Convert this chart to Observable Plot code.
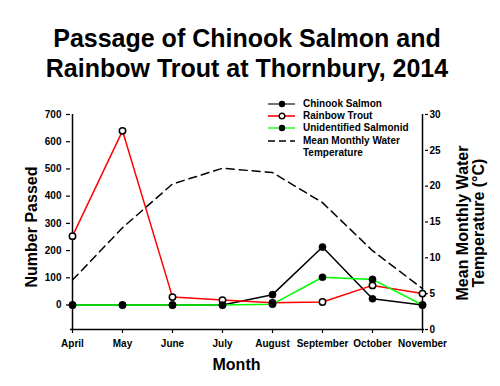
<!DOCTYPE html>
<html>
<head>
<meta charset="utf-8">
<script src="https://cdn.jsdelivr.net/npm/d3@7"></script>
<script src="https://cdn.jsdelivr.net/npm/@observablehq/plot@0.6"></script>
<style>
  body { margin: 0; background: #fff; }
  #wrap { position: relative; width: 500px; height: 386px; overflow: hidden; background: #fff; }
  #chart { position: absolute; left: 0; top: 0; }
  #title { position: absolute; left: 0; top: 23px; width: 494px; text-align: center;
           font: bold 25px/30px "Liberation Sans", Arial, sans-serif; color: #000; }
  .lg { position: absolute; height: 12px; font: bold 10px/12px "Liberation Sans", Arial, sans-serif; color: #000; white-space: nowrap; }
  .lg svg { position: absolute; left: 0; top: 0; }
  .lg span { position: absolute; left: 35px; top: 0; }
</style>
</head>
<body>
<div id="wrap">
  <div id="chart"></div>
  <div id="title">Passage of Chinook Salmon and<br>Rainbow Trout at Thornbury, 2014</div>
  <div id="legend"></div>
</div>
<script>
// ---- data ----
const months = ["April", "May", "June", "July", "August", "September", "October", "November"];
const chinook = [0, 0, 0, 0, 38, 213, 23, 0];
const rainbow = [253, 640, 29, 18, 8, 11, 72, 42];
const unidentified = [0, 0, 0, 0, 3, 102, 94, 0];
const waterTemp = [6.9, 14.2, 20.3, 22.5, 21.9, 17.7, 11.0, 5.7];
const countTicks = [0, 100, 200, 300, 400, 500, 600, 700];
const tempTicks = [0, 5, 10, 15, 20, 25, 30];
const countDomain = [-90, 700];
const tempDomain = [0, 30];
const seriesNames = ["Chinook Salmon", "Rainbow Trout", "Unidentified Salmonid", "Mean Monthly Water\nTemperature"];
const axisTitles = {left: "Number Passed", bottom: "Month", right: "Mean Monthly Water\nTemperature (°C)"};

// temperature mapped onto the count axis (right axis)
const t2c = d3.scaleLinear(tempDomain, countDomain);
const c2t = t2c.invert;

const rows = (vals) => months.map((m, i) => ({month: m, value: vals[i]}));
const chinookRows = rows(chinook);
const rainbowRows = rows(rainbow);
const unidRows = rows(unidentified);
const tempRows = months.map((m, i) => ({month: m, value: t2c(waterTemp[i])}));

const font = "Liberation Sans, Arial, sans-serif";

const chart = Plot.plot({
  width: 500,
  height: 386,
  marginLeft: 70,
  marginRight: 76,
  marginTop: 114,
  marginBottom: 57,
  style: {fontFamily: font, fontSize: "10px", fontWeight: "bold", background: "white", overflow: "visible", color: "black"},
  x: {type: "point", domain: months, padding: 0, axis: null},
  y: {domain: countDomain, axis: null},
  marks: [
    Plot.ruleX([months[0]], {stroke: "black", strokeWidth: 1.5}),
    Plot.ruleX([months[months.length - 1]], {stroke: "black", strokeWidth: 1.5}),
    Plot.ruleY([countDomain[0]], {stroke: "black", strokeWidth: 1.5}),
    Plot.axisX({anchor: "bottom", tickSize: 4, tickPadding: 6, label: null, strokeWidth: 1.2}),
    Plot.axisY(countTicks, {anchor: "left", tickSize: 4, tickPadding: 5, label: null, strokeWidth: 1.2}),
    Plot.axisY(tempTicks.map(t2c), {anchor: "right", tickSize: 3, tickPadding: 2, label: null, strokeWidth: 1.2,
      tickFormat: (v) => String(Math.round(c2t(v)))}),
    Plot.text([axisTitles.left], {frameAnchor: "left", textAnchor: "middle", lineAnchor: "middle",
      dx: -39, dy: 5, rotate: -90, fontSize: 16, fontWeight: "bold"}),
    Plot.text([axisTitles.bottom], {frameAnchor: "bottom", textAnchor: "middle", lineAnchor: "middle",
      dx: -11, dy: 35, fontSize: 16, fontWeight: "bold"}),
    Plot.text([axisTitles.right], {frameAnchor: "right", textAnchor: "middle", lineAnchor: "middle",
      dx: 46, dy: 1, rotate: -90, fontSize: 16, fontWeight: "bold", lineHeight: 1.02}),
    Plot.line(tempRows, {x: "month", y: "value", stroke: "black", strokeWidth: 1.5, strokeDasharray: "8,5"}),
    Plot.line(chinookRows, {x: "month", y: "value", stroke: "black", strokeWidth: 1.5}),
    Plot.line(rainbowRows, {x: "month", y: "value", stroke: "#ff0000", strokeWidth: 1.5}),
    Plot.line(unidRows, {x: "month", y: "value", stroke: "#00ff00", strokeWidth: 1.5}),
    Plot.dot(chinookRows, {x: "month", y: "value", r: 3.6, fill: "black", stroke: "black", strokeWidth: 0.5}),
    Plot.dot(rainbowRows, {x: "month", y: "value", r: 3.2, fill: "white", stroke: "black", strokeWidth: 1.5}),
    Plot.dot(unidRows, {x: "month", y: "value", r: 3.6, fill: "black", stroke: "black", strokeWidth: 0.5})
  ]
});
document.getElementById("chart").appendChild(chart);

// ---- legend ----
const legendStyles = [
  {stroke: "#505050", marker: "filled", dash: null, top: 104},
  {stroke: "#ff0000", marker: "open", dash: null, top: 115.9},
  {stroke: "#33ff33", marker: "filled", dash: null, top: 128.3},
  {stroke: "#000000", marker: null, dash: "7,4", top: 141}
];
const legend = document.getElementById("legend");
seriesNames.forEach((name, i) => {
  const s = legendStyles[i];
  const row = document.createElement("div");
  row.className = "lg";
  row.style.left = "268px";
  row.style.top = (s.top - 6) + "px";
  let mk = "";
  if (s.marker === "filled") mk = '<circle cx="14" cy="6" r="3.2" fill="black"/>';
  if (s.marker === "open") mk = '<circle cx="14" cy="6" r="2.8" fill="white" stroke="black" stroke-width="1.4"/>';
  row.innerHTML = '<svg width="27" height="12"><line x1="0" x2="27" y1="6" y2="6" stroke="' + s.stroke +
    '" stroke-width="1.6"' + (s.dash ? ' stroke-dasharray="' + s.dash + '"' : '') + '/>' + mk + '</svg>' +
    '<span>' + name.replace("\n", "<br>") + '</span>';
  legend.appendChild(row);
});
</script>
</body>
</html>
